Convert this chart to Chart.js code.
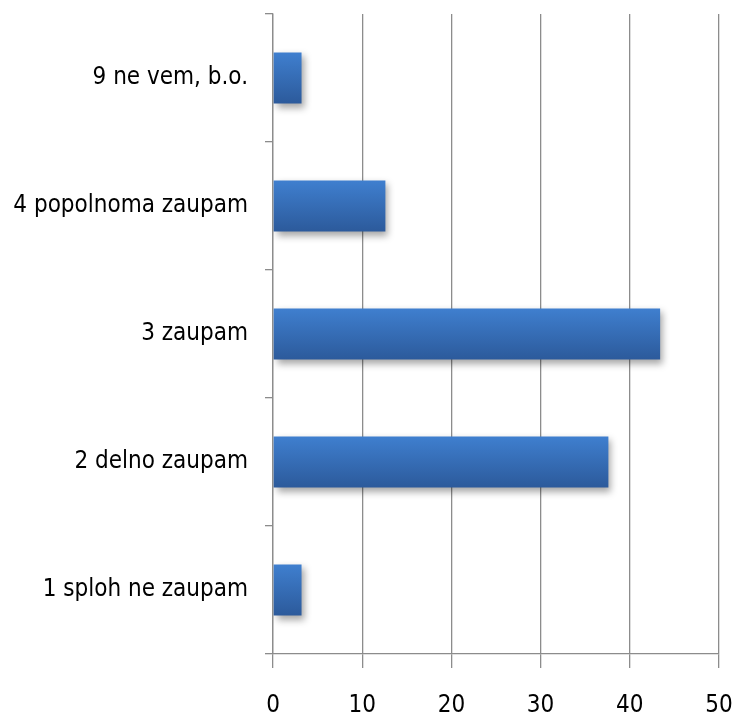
<!DOCTYPE html>
<html>
<head>
<meta charset="utf-8">
<script src="https://cdn.jsdelivr.net/npm/chart.js@4"></script>
<style>
  html, body { margin: 0; padding: 0; background: #fff; }
  #wrap { width: 736px; height: 721px; }
</style>
</head>
<body>
<div id="wrap"><canvas id="barChart" width="736" height="721"></canvas></div>
<script>
const categories = ['9 ne vem, b.o.', '4 popolnoma zaupam', '3 zaupam', '2 delno zaupam', '1 sploh ne zaupam'];
const shares = [3.2, 12.6, 43.4, 37.6, 3.2];
const xTicks = [0, 10, 20, 30, 40, 50];

const FONT = "'Liberation Sans Narrow', 'DejaVu Sans Condensed', 'Arial Narrow', sans-serif";
const GRID = '#8c8c8c';

// vertical gradient + soft shadow on each bar
const barLook = {
  id: 'barLook',
  beforeDatasetDraw(chart) {
    const ctx = chart.ctx;
    chart.getDatasetMeta(0).data.forEach(bar => {
      const top = bar.y - bar.height / 2;
      const g = ctx.createLinearGradient(0, top, 0, top + bar.height);
      g.addColorStop(0, '#3f7fcf');
      g.addColorStop(1, '#2c5a9b');
      bar.options.backgroundColor = g;
    });
    ctx.save();
    ctx.shadowColor = 'rgba(0,0,0,0.35)';
    ctx.shadowBlur = 7;
    ctx.shadowOffsetX = 3;
    ctx.shadowOffsetY = 4;
  },
  afterDatasetDraw(chart) {
    chart.ctx.restore();
  }
};

new Chart(document.getElementById('barChart').getContext('2d'), {
  type: 'bar',
  data: {
    labels: categories,
    datasets: [{
      data: shares,
      // scriptable so every bar gets its own options object
      backgroundColor: () => '#3570b8',
      borderWidth: 0,
      barPercentage: 1,
      categoryPercentage: 0.4
    }]
  },
  options: {
    indexAxis: 'y',
    responsive: false,
    animation: false,
    layout: { padding: 0 },
    plugins: {
      legend: { display: false },
      tooltip: { enabled: false }
    },
    scales: {
      x: {
        min: 0,
        max: 50,
        afterBuildTicks: s => { s.ticks = xTicks.map(v => ({ value: v })); },
        afterFit: s => { s.height = 67; s.paddingLeft = 0; s.paddingRight = 17; },
        grid: { color: GRID, lineWidth: 1.3, tickLength: 14, tickColor: GRID },
        border: { color: GRID, width: 1.3 },
        ticks: { color: '#000', padding: 23, font: { family: FONT, size: 24 } }
      },
      y: {
        afterFit: s => { s.width = 273; s.paddingTop = 14; s.paddingBottom = 0; },
        grid: { drawOnChartArea: false, offset: true, tickLength: 8, color: GRID, lineWidth: 1.3 },
        border: { color: GRID, width: 1.3 },
        ticks: { color: '#000', padding: 17, font: { family: FONT, size: 24 } }
      }
    }
  },
  plugins: [barLook]
});
</script>
</body>
</html>
